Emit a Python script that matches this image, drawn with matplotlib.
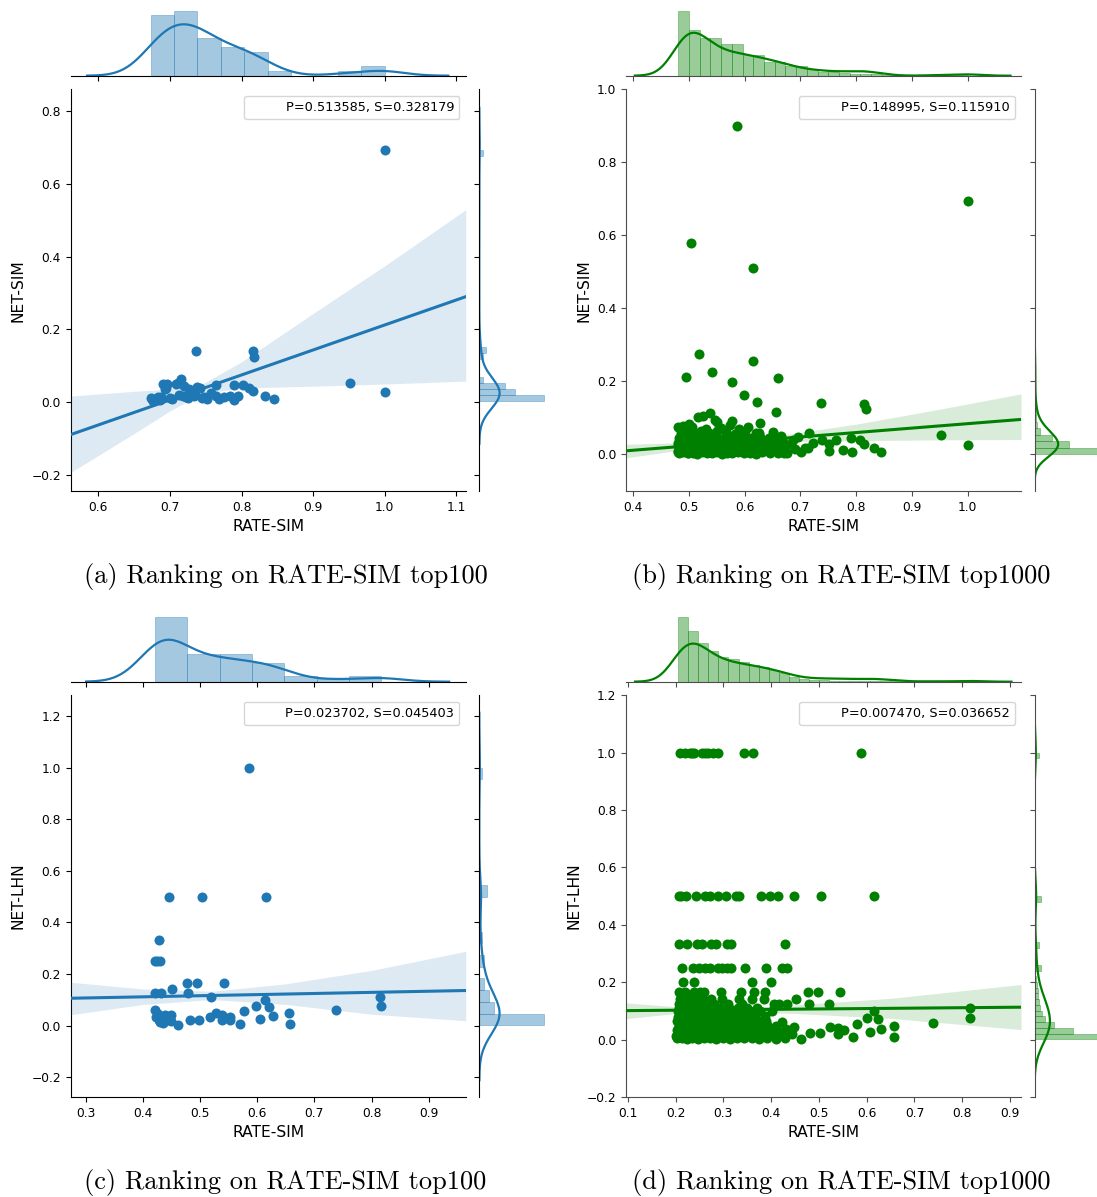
import numpy as np
import matplotlib.pyplot as plt
from matplotlib.ticker import MultipleLocator

W, H = 1097, 1197
BLUE = '#1f77b4'
GREEN = 'green'

# ---------------- (a) RATE-SIM vs NET-SIM, top100 ----------------
a_x = [0.673, 0.675, 0.677, 0.681, 0.683, 0.686, 0.688, 0.691, 0.693, 0.694, 0.696, 0.700, 0.703,
       0.709, 0.711, 0.713, 0.716, 0.718, 0.720, 0.723, 0.725, 0.727, 0.730, 0.733, 0.735, 0.737, 0.738,
       0.742, 0.745, 0.748, 0.752, 0.757, 0.764, 0.764, 0.768,
       0.775, 0.784, 0.789, 0.790, 0.795, 0.802,
       0.811, 0.816, 0.816, 0.817, 0.833,
       0.845, 0.952, 1.000, 1.000]
a_y = [0.012, 0.008, 0.003, 0.010, 0.014, 0.007, 0.015, 0.049, 0.035, 0.040, 0.049, 0.012, 0.010,
       0.049, 0.052, 0.021, 0.064, 0.017, 0.045, 0.015, 0.012, 0.035, 0.030, 0.018, 0.021, 0.141, 0.042,
       0.040, 0.012, 0.015, 0.009, 0.026, 0.048, 0.017, 0.010,
       0.015, 0.017, 0.046, 0.007, 0.017, 0.046,
       0.039, 0.141, 0.030, 0.125, 0.017,
       0.009, 0.054, 0.692, 0.028]
a_stats = 'P=0.513585, S=0.328179'
a_line = [-0.089, 0.290]
a_band_x = [0.5615, 0.65, 0.70, 0.745, 0.80, 0.90, 1.00, 1.113]
a_band_hi = [0.017, 0.030, 0.036, 0.050, 0.111, 0.244, 0.375, 0.529]
a_band_lo = [-0.193, -0.086, -0.024, 0.024, 0.039, 0.044, 0.050, 0.058]
a_top_rng = [0.673, 1.0]
a_top_h = [185, 197, 113, 86, 71, 14, 0, 0, 14, 29]
a_side_rng = [0.003, 0.692]
a_side_h = [64.7, 35.7, 25.7, 3.3, 0, 0, 0, 3.3, 6.5] + [0] * 32 + [3.3]

# ---------------- (b) RATE-SIM vs NET-SIM, top1000 ----------------
b_x = [0.586, 0.503, 0.615, 1.000, 0.518, 0.615, 0.542, 0.495, 0.577, 0.660, 0.599, 0.622, 0.656,
       0.737, 0.815, 0.817, 0.953, 1.000, 0.845, 0.833, 0.815, 0.807, 0.791, 0.792, 0.776, 0.764,
       0.751, 0.738, 0.716, 0.713, 0.701, 0.696, 0.686, 0.676, 0.628, 0.625, 0.606, 0.577, 0.573,
       0.550, 0.546, 0.538, 0.526, 0.516, 0.500, 0.489, 0.480, 0.651, 0.666,
       0.482, 0.490, 0.498, 0.507, 0.515, 0.524, 0.532, 0.541, 0.550, 0.559, 0.568, 0.578, 0.588,
       0.598, 0.609, 0.620, 0.632, 0.645, 0.660, 0.670,
       0.484, 0.493, 0.501, 0.510, 0.519, 0.528, 0.537, 0.546, 0.555, 0.565, 0.575, 0.585, 0.596,
       0.607, 0.619, 0.631, 0.644, 0.657, 0.671, 0.690, 0.708,
       0.481, 0.489, 0.497, 0.505, 0.514, 0.523, 0.533, 0.543, 0.553, 0.563, 0.574, 0.585, 0.597,
       0.610, 0.623, 0.637, 0.652, 0.668, 0.684, 0.722, 0.752,
       0.483, 0.492, 0.502, 0.512, 0.522, 0.533, 0.545, 0.557, 0.569, 0.582, 0.596, 0.611, 0.627,
       0.643, 0.660,
       0.486, 0.497, 0.509, 0.522, 0.536, 0.551, 0.566, 0.583, 0.601, 0.620,
       0.484, 0.495, 0.506, 0.530, 0.557, 0.590,
       0.480, 0.486, 0.494, 0.503, 0.512, 0.481, 0.488, 0.496, 0.504, 0.516, 0.485, 0.495, 0.506,
       0.527, 0.540, 0.535, 0.560,
       0.481, 0.483, 0.485, 0.487, 0.489, 0.491, 0.493, 0.495, 0.497, 0.499, 0.501, 0.503, 0.505,
       0.508, 0.511, 0.514, 0.517, 0.520, 0.524, 0.528]
b_y = [0.899, 0.579, 0.511, 0.693, 0.276, 0.256, 0.226, 0.212, 0.198, 0.210, 0.162, 0.144, 0.117,
       0.140, 0.139, 0.124, 0.053, 0.027, 0.007, 0.017, 0.030, 0.041, 0.044, 0.006, 0.012, 0.041,
       0.010, 0.041, 0.060, 0.017, 0.007, 0.049, 0.041, 0.003, 0.087, 0.058, 0.076, 0.092, 0.081,
       0.090, 0.094, 0.113, 0.106, 0.102, 0.083, 0.078, 0.075, 0.062, 0.050,
       0.004, 0.006, 0.003, 0.005, 0.002, 0.006, 0.004, 0.003, 0.006, 0.002, 0.005, 0.004, 0.006,
       0.003, 0.005, 0.002, 0.006, 0.004, 0.003, 0.005,
       0.018, 0.016, 0.019, 0.017, 0.020, 0.015, 0.018, 0.021, 0.016, 0.019, 0.017, 0.020, 0.015,
       0.018, 0.021, 0.016, 0.019, 0.017, 0.020, 0.016, 0.019,
       0.032, 0.030, 0.034, 0.031, 0.033, 0.029, 0.035, 0.031, 0.033, 0.030, 0.034, 0.032, 0.029,
       0.033, 0.031, 0.034, 0.030, 0.033, 0.029, 0.031, 0.028,
       0.046, 0.048, 0.044, 0.047, 0.045, 0.049, 0.046, 0.043, 0.048, 0.045, 0.047, 0.044, 0.048,
       0.045, 0.042,
       0.060, 0.062, 0.058, 0.063, 0.059, 0.064, 0.061, 0.057, 0.063, 0.060,
       0.072, 0.070, 0.074, 0.071, 0.073, 0.069,
       0.010, 0.012, 0.009, 0.011, 0.010, 0.025, 0.024, 0.026, 0.023, 0.025, 0.040, 0.039, 0.041,
       0.010, 0.012, 0.025, 0.011,
       0.008, 0.022, 0.036, 0.050, 0.064, 0.014, 0.028, 0.042, 0.056, 0.003, 0.017, 0.031, 0.045,
       0.059, 0.007, 0.021, 0.035, 0.049, 0.013, 0.027]
b_stats = 'P=0.148995, S=0.115910'
b_line = [0.010, 0.096]
b_band_x = [0.387, 0.48, 0.58, 0.68, 0.80, 0.95, 1.096]
b_band_hi = [0.028, 0.032, 0.039, 0.056, 0.083, 0.124, 0.166]
b_band_lo = [-0.009, 0.011, 0.028, 0.036, 0.038, 0.040, 0.041]
b_top_rng = [0.481, 1.0]
b_top_h = [197, 139, 115, 115, 97, 97, 64, 64, 41, 41, 29, 29, 19, 12,
           10, 8, 6, 5, 4, 3, 2, 2, 1, 1, 1, 1, 2]
b_side_rng = [0.0, 0.9]
b_side_h = [66, 35, 18, 5, 2.5, 1.5, 1.0, 0.6, 0.4, 0.4, 0.3, 0.3, 0.3, 0.3, 0.2, 0.2] + [0] * 34

# ---------------- (c) RATE-SIM vs NET-LHN, top100 ----------------
c_x = [0.586, 0.446, 0.503, 0.615, 0.427, 0.420, 0.425, 0.430, 0.421, 0.431, 0.450, 0.476, 0.495,
       0.541, 0.479, 0.518, 0.614, 0.815, 0.816, 0.737, 0.577, 0.598, 0.621, 0.605, 0.628, 0.656,
       0.657, 0.570, 0.552, 0.552, 0.538, 0.538, 0.527, 0.517, 0.498, 0.482, 0.461, 0.448, 0.448,
       0.437, 0.429, 0.421, 0.422, 0.433, 0.441, 0.426, 0.435, 0.444, 0.439, 0.428]
c_y = [1.000, 0.500, 0.500, 0.500, 0.333, 0.250, 0.250, 0.250, 0.125, 0.125, 0.143, 0.167, 0.167,
       0.167, 0.125, 0.111, 0.100, 0.111, 0.077, 0.060, 0.057, 0.077, 0.071, 0.027, 0.038, 0.047,
       0.008, 0.008, 0.032, 0.022, 0.022, 0.042, 0.048, 0.035, 0.022, 0.022, 0.001, 0.042, 0.016,
       0.032, 0.012, 0.062, 0.032, 0.025, 0.022, 0.045, 0.010, 0.035, 0.040, 0.020]
c_stats = 'P=0.023702, S=0.045403'
c_line = [0.106, 0.136]
c_band_x = [0.273, 0.40, 0.52, 0.65, 0.80, 0.965]
c_band_hi = [0.168, 0.142, 0.133, 0.162, 0.214, 0.288]
c_band_lo = [0.042, 0.082, 0.101, 0.082, 0.044, 0.019]
c_top_rng = [0.421, 0.817]
c_top_h = [197, 83, 83, 56, 16, 8, 16]
c_side_rng = [0.001, 1.0]
c_side_h = [65, 15, 10, 5, 0, 5, 0, 2.5, 0, 0, 0, 7.7, 0, 0, 0, 0, 0, 0, 0, 0, 0, 2.5]

# ---------------- (d) RATE-SIM vs NET-LHN, top1000 ----------------
d_x = [0.210, 0.219, 0.229, 0.235, 0.238, 0.256, 0.262, 0.267, 0.278, 0.289, 0.343, 0.362, 0.587,
       0.207, 0.212, 0.222, 0.243, 0.262, 0.271, 0.289, 0.305, 0.326, 0.333, 0.379, 0.398, 0.414,
       0.448, 0.504, 0.616,
       0.207, 0.223, 0.245, 0.256, 0.274, 0.284, 0.307, 0.315, 0.428,
       0.214, 0.236, 0.249, 0.262, 0.271, 0.289, 0.296, 0.307, 0.315, 0.346, 0.390, 0.423, 0.433,
       0.216, 0.238, 0.359, 0.399,
       0.208, 0.220, 0.238, 0.250, 0.260, 0.294, 0.337, 0.365, 0.386, 0.478, 0.497, 0.544,
       0.210, 0.222, 0.236, 0.251, 0.274, 0.296, 0.333, 0.359, 0.384, 0.452,
       0.207, 0.219, 0.233, 0.248, 0.264, 0.281, 0.310, 0.339, 0.406, 0.417, 0.434, 0.480, 0.520,
       0.206, 0.218, 0.231, 0.245, 0.260, 0.276, 0.293, 0.311, 0.330, 0.350, 0.371, 0.817,
       0.204, 0.215, 0.227, 0.240, 0.254, 0.268, 0.283, 0.300, 0.318, 0.337, 0.356, 0.376, 0.615, 0.402,
       0.600, 0.624, 0.579, 0.658, 0.630, 0.606, 0.658, 0.572, 0.739, 0.817, 0.524, 0.539, 0.540,
       0.553, 0.502, 0.482, 0.462, 0.448, 0.423,
       0.203, 0.213, 0.224, 0.235, 0.247, 0.259, 0.272, 0.285, 0.299, 0.313, 0.328, 0.343, 0.359,
       0.375, 0.392, 0.410, 0.429,
       0.205, 0.216, 0.228, 0.240, 0.252, 0.265, 0.279, 0.293, 0.307, 0.322, 0.337, 0.353, 0.369,
       0.386, 0.404, 0.423, 0.443,
       0.202, 0.212, 0.223, 0.234, 0.246, 0.258, 0.271, 0.284, 0.298, 0.312, 0.327, 0.342, 0.358,
       0.375, 0.393, 0.412, 0.432,
       0.206, 0.217, 0.229, 0.241, 0.254, 0.267, 0.281, 0.295, 0.310, 0.325, 0.341, 0.357, 0.374,
       0.391, 0.410,
       0.203, 0.214, 0.226, 0.238, 0.251, 0.264, 0.278, 0.292, 0.307, 0.322, 0.338, 0.355, 0.372, 0.390,
       0.205, 0.216, 0.228, 0.241, 0.255, 0.269, 0.284, 0.299, 0.315, 0.332, 0.349, 0.367, 0.386,
       0.201, 0.204, 0.207, 0.209, 0.211, 0.214, 0.217, 0.219, 0.222, 0.225, 0.228, 0.231, 0.234,
       0.237, 0.240, 0.243, 0.246, 0.249, 0.252, 0.255,
       0.202, 0.206, 0.210, 0.215, 0.220, 0.225, 0.230, 0.236, 0.242, 0.248, 0.203, 0.208, 0.213,
       0.218, 0.223, 0.229, 0.235, 0.241, 0.247, 0.254]
d_y = [1.0] * 13 + [0.5] * 16 + [0.333] * 9 + [0.25] * 13 + [0.2] * 4 + [0.167] * 12 + \
      [0.143] * 10 + [0.125] * 13 + [0.111] * 12 + [0.1] * 14 + \
      [0.077, 0.072, 0.055, 0.049, 0.038, 0.027, 0.009, 0.009, 0.059, 0.077, 0.045, 0.041, 0.019,
       0.033, 0.022, 0.023, 0.002, 0.043, 0.060,
       0.004, 0.006, 0.003, 0.005, 0.002, 0.006, 0.004, 0.003, 0.006, 0.002, 0.005, 0.004, 0.006,
       0.003, 0.005, 0.002, 0.006,
       0.020, 0.018, 0.021, 0.019, 0.022, 0.017, 0.020, 0.021, 0.018, 0.020, 0.019, 0.022, 0.018,
       0.021, 0.019, 0.020, 0.018,
       0.035, 0.037, 0.034, 0.036, 0.033, 0.036, 0.035, 0.037, 0.034, 0.036, 0.035, 0.033, 0.036,
       0.034, 0.037, 0.035, 0.036,
       0.050, 0.052, 0.049, 0.051, 0.048, 0.052, 0.050, 0.049, 0.051, 0.050, 0.052, 0.049, 0.051,
       0.050, 0.048,
       0.065, 0.067, 0.064, 0.066, 0.063, 0.066, 0.065, 0.067, 0.064, 0.066, 0.065, 0.063, 0.066, 0.064,
       0.080, 0.082, 0.079, 0.081, 0.078, 0.082, 0.080, 0.079, 0.081, 0.080, 0.082, 0.079, 0.081,
       0.012, 0.028, 0.045, 0.058, 0.072, 0.088, 0.104, 0.118, 0.135, 0.152, 0.010, 0.027, 0.043,
       0.057, 0.073, 0.089, 0.105, 0.120, 0.136, 0.150,
       0.015, 0.040, 0.062, 0.085, 0.110, 0.130, 0.013, 0.038, 0.064, 0.092, 0.008, 0.030, 0.052,
       0.075, 0.097, 0.121, 0.140, 0.025, 0.047, 0.070]
d_stats = 'P=0.007470, S=0.036652'
d_line = [0.101, 0.113]
d_band_x = [0.096, 0.20, 0.30, 0.45, 0.65, 0.923]
d_band_hi = [0.128, 0.115, 0.110, 0.121, 0.144, 0.192]
d_band_lo = [0.073, 0.091, 0.098, 0.091, 0.074, 0.035]
d_top_rng = [0.205, 0.817]
d_top_h = [197, 155, 117, 92, 75, 69, 60, 50, 45, 35, 27, 15, 8, 5, 4, 3, 3, 2, 2, 2,
           1.5, 1.5, 1, 1, 1, 1, 0.5, 0.5, 1]
d_side_rng = [0.001, 1.0]
d_side_h = [70, 41, 21, 11, 8, 6, 5, 4, 4, 3, 1, 0, 7, 0, 0, 0, 5, 0, 0, 0, 0, 0, 0, 0, 7] + \
           [0] * 24 + [5]

captions = ['(a) Ranking on RATE-SIM top100', '(b) Ranking on RATE-SIM top1000',
            '(c) Ranking on RATE-SIM top100', '(d) Ranking on RATE-SIM top1000']

fig = plt.figure(figsize=(W / 100, H / 100), dpi=100)


def add_px(x0, y0, x1, y1):
    # pixel box (top-left origin) -> figure axes
    return fig.add_axes([x0 / W, 1 - y1 / H, (x1 - x0) / W, (y1 - y0) / H])


def kde(vals, n_eff, cut=3, gridsize=200):
    v = np.asarray(vals, float)
    bw = v.std(ddof=1) * n_eff ** -0.2
    grid = np.linspace(v.min() - cut * bw, v.max() + cut * bw, gridsize)
    dens = np.exp(-0.5 * ((grid[:, None] - v[None, :]) / bw) ** 2).sum(1)
    return grid, dens / (len(v) * bw * np.sqrt(2 * np.pi))


def hist_density(rng, heights):
    h = np.asarray(heights, float)
    edges = np.linspace(rng[0], rng[1], len(h) + 1)
    w = edges[1] - edges[0]
    return edges[:-1], h / (h.sum() * w), w


def panel(ox, oy, x, y, color, xlim, ylim, ylabel, stats, line, bx, bhi, blo,
          top_rng, top_h, side_rng, side_h, n_eff, caption, spine_c):
    jx0, jx1 = ox + 70.7, ox + 465.7
    jy0, jy1 = oy + 89.3, oy + 491.0
    ax = add_px(jx0, jy0, jx1, jy1)
    axt = add_px(jx0, oy + 7.6, jx1, oy + 75.7)
    axr = add_px(ox + 479.3, jy0, ox + 547.4, jy1)

    # joint: scatter + regression
    ax.scatter(x, y, s=52, color=color, linewidths=0, zorder=2)
    ax.fill_between(bx, blo, bhi, color=color, alpha=0.15, lw=0, zorder=3)
    ax.plot(xlim, line, color=color, lw=2.2, zorder=4)
    ax.set_xlim(xlim)
    ax.set_ylim(ylim)
    ax.xaxis.set_major_locator(MultipleLocator(0.1))
    ax.yaxis.set_major_locator(MultipleLocator(0.2))
    ax.set_xlabel('RATE-SIM', fontsize=11.2)
    ax.set_ylabel(ylabel, fontsize=11.2)
    ax.tick_params(labelsize=8.8, color=spine_c)
    for s in ['top', 'right']:
        ax.spines[s].set_visible(False)
    for s in ['left', 'bottom']:
        ax.spines[s].set_color(spine_c)
    leg = ax.legend([plt.Line2D([], [], lw=0)], [stats], loc='upper right', fontsize=9.3,
                    handlelength=2.0, frameon=True)
    leg.get_frame().set_edgecolor('0.8')

    # top marginal
    left, dens, w = hist_density(top_rng, top_h)
    axt.bar(left, dens, width=w, align='edge', color=color, alpha=0.4,
            edgecolor=color, linewidth=0.6)
    g, k = kde(x, n_eff)
    axt.plot(g, k, color=color, lw=1.6)
    axt.set_xlim(xlim)
    axt.set_ylim(0, max(dens.max(), k.max()) * 1.05)
    axt.xaxis.set_major_locator(MultipleLocator(0.1))
    axt.tick_params(axis='x', labelbottom=False, color=spine_c)
    axt.set_yticks([])
    for s in ['top', 'right', 'left']:
        axt.spines[s].set_visible(False)
    axt.spines['bottom'].set_color(spine_c)

    # right marginal
    bottom, dens, w = hist_density(side_rng, side_h)
    axr.barh(bottom, dens, height=w, align='edge', color=color, alpha=0.4,
             edgecolor=color, linewidth=0.6)
    g, k = kde(y, n_eff)
    axr.plot(k, g, color=color, lw=1.6)
    axr.set_ylim(ylim)
    axr.set_xlim(0, max(dens.max(), k.max()) * 1.05)
    axr.yaxis.set_major_locator(MultipleLocator(0.2))
    axr.tick_params(axis='y', labelleft=False, color=spine_c)
    axr.set_xticks([])
    for s in ['top', 'right', 'bottom']:
        axr.spines[s].set_visible(False)
    axr.spines['left'].set_color(spine_c)

    fig.text((ox + 285.5) / W, 1 - (oy + 576) / H, caption, family='cmr10',
             fontsize=19.0, ha='center', va='center')


panel(0, 0, a_x, a_y, BLUE, [0.5615, 1.113], [-0.244, 0.86], 'NET-SIM', a_stats, a_line,
      a_band_x, a_band_hi, a_band_lo, a_top_rng, a_top_h, a_side_rng, a_side_h, 100,
      captions[0], 'black')
panel(555.3, 0, b_x, b_y, GREEN, [0.387, 1.096], [-0.1, 1.0], 'NET-SIM', b_stats, b_line,
      b_band_x, b_band_hi, b_band_lo, b_top_rng, b_top_h, b_side_rng, b_side_h, 1000,
      captions[1], '0.3')
panel(0, 606, c_x, c_y, BLUE, [0.273, 0.965], [-0.277, 1.281], 'NET-LHN', c_stats, c_line,
      c_band_x, c_band_hi, c_band_lo, c_top_rng, c_top_h, c_side_rng, c_side_h, 100,
      captions[2], 'black')
panel(555.3, 606, d_x, d_y, GREEN, [0.096, 0.923], [-0.2, 1.2], 'NET-LHN', d_stats, d_line,
      d_band_x, d_band_hi, d_band_lo, d_top_rng, d_top_h, d_side_rng, d_side_h, 1000,
      captions[3], '0.3')

fig.savefig('out.png', dpi=100)
